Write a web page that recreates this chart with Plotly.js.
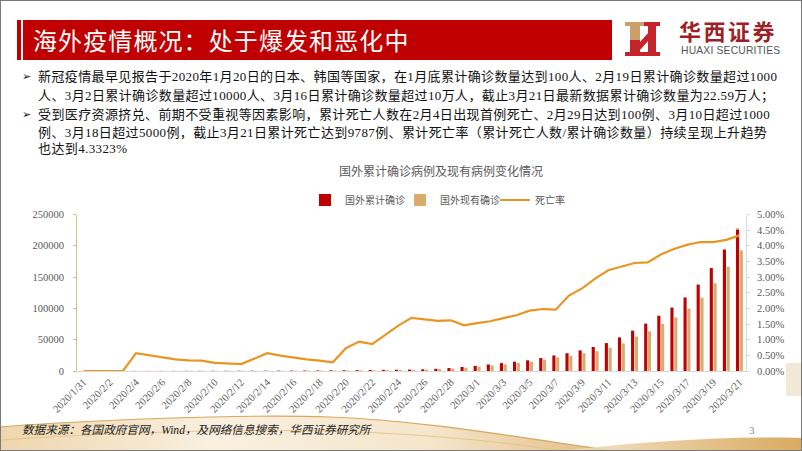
<!DOCTYPE html>
<html>
<head>
<meta charset="utf-8">
<script src="https://cdn.plot.ly/plotly-3.0.1.min.js"></script>
<style>
  html, body { margin:0; padding:0; }
  body { width:802px; height:451px; overflow:hidden; background:#fff; position:relative;
         font-family:"Liberation Serif","Noto Sans CJK SC",serif; }
  #frame { position:absolute; left:0; top:0; width:800px; height:449px; border:1px solid #7a7a7a; z-index:20; pointer-events:none; }
  #deco { position:absolute; left:0; top:0; z-index:0; }
  #chart { position:absolute; left:0; top:0; width:802px; height:451px; z-index:5; }
  .abs { position:absolute; z-index:10; white-space:nowrap; }
  .line { font-size:13px; letter-spacing:0.38px; color:#111; line-height:16px; left:38px; }
  .bullet { font-family:"DejaVu Sans",sans-serif; font-size:11px; left:22px; color:#111; line-height:16px; }
</style>
</head>
<body>
<svg id="deco" width="802" height="451">
  <defs>
    <linearGradient id="g1" x1="0" y1="0" x2="1" y2="0">
      <stop offset="0" stop-color="#E9C892"/>
      <stop offset="0.35" stop-color="#F7EBD6"/>
      <stop offset="0.7" stop-color="#F1DDBA"/>
      <stop offset="1" stop-color="#D9A659"/>
    </linearGradient>
    <linearGradient id="g2" x1="0" y1="0" x2="1" y2="0">
      <stop offset="0" stop-color="#F3E2C4"/>
      <stop offset="1" stop-color="#D39B45"/>
    </linearGradient>
  </defs>
  <!-- title bar -->
  <rect x="17" y="20" width="4" height="40" fill="#C00000"/>
  <rect x="23" y="20" width="589" height="40" fill="#C00000"/>
  <!-- logo -->
  <polygon points="625,22 645,22 645,26 640,26 640,40 630,40 630,26 625,26" fill="#C9A068"/>
  <rect x="630" y="40" width="10" height="16" fill="#C3232B"/>
  <rect x="625" y="52" width="20" height="4" fill="#C3232B"/>
  <polygon points="640,42 649,32 649,40 640,50" fill="#C3232B"/>
  <rect x="648" y="22" width="8" height="34" fill="#C3232B"/>
  <rect x="644" y="22" width="16" height="4" fill="#C3232B"/>
  <rect x="644" y="52" width="16" height="4" fill="#C3232B"/>
  <!-- bottom decoration -->
  <path d="M0,451 L0,427 C90,420 240,414 330,417 C430,421 520,438 615,451 Z" fill="url(#g1)" opacity="0.75"/>
  <path d="M0,427 C90,420 240,414 330,417 C430,421 520,438 615,451" fill="none" stroke="#D8A75B" stroke-width="1.2"/>
  <path d="M0,440 C120,432 260,428 360,432 C450,436 520,444 560,451" fill="none" stroke="#E4BE80" stroke-width="0.8"/>
  <path d="M560,451 C650,441 730,436 802,438 L802,451 Z" fill="url(#g2)" opacity="0.85"/>
  <rect x="786" y="363" width="16" height="33" fill="#EFE2CC" opacity="0.8"/>
</svg>
<div id="chart"></div>
<div id="frame"></div>

<div class="abs" style="left:33px; top:25px; font-family:'Noto Sans CJK SC',sans-serif; font-size:24px; letter-spacing:1.1px; color:#fff; line-height:30px;">海外疫情概况：处于爆发和恶化中</div>
<div class="abs" style="left:679px; top:17px; font-family:'Noto Sans CJK SC',serif; font-weight:bold; font-size:22px; letter-spacing:2.5px; color:#9E1F25; line-height:26px;">华西证券</div>
<div class="abs" style="left:681px; top:45px; font-family:'Liberation Sans',sans-serif; font-size:10.3px; letter-spacing:0.2px; color:#555; line-height:11px;">HUAXI SECURITIES</div>

<div class="abs bullet" style="top:69px;">➢</div>
<div class="abs line" style="top:69px;">新冠疫情最早见报告于2020年1月20日的日本、韩国等国家，在1月底累计确诊数量达到100人、2月19日累计确诊数量超过1000</div>
<div class="abs line" style="top:88px;">人、3月2日累计确诊数量超过10000人、3月16日累计确诊数量超过10万人，截止3月21日最新数据累计确诊数量为22.59万人；</div>
<div class="abs bullet" style="top:107px;">➢</div>
<div class="abs line" style="top:107px;">受到医疗资源挤兑、前期不受重视等因素影响，累计死亡人数在2月4日出现首例死亡、2月29日达到100例、3月10日超过1000</div>
<div class="abs line" style="top:125px;">例、3月18日超过5000例，截止3月21日累计死亡达到9787例、累计死亡率（累计死亡人数/累计确诊数量）持续呈现上升趋势</div>
<div class="abs line" style="top:141px;">也达到4.3323%</div>

<div class="abs" style="left:22px; top:423px; font-size:11.6px; font-style:italic; color:#222; line-height:15px;">数据来源：各国政府官网，Wind，及网络信息搜索，华西证券研究所</div>
<div class="abs" style="left:749px; top:423px; font-size:11px; color:#888; line-height:14px;">3</div>

<script>
// ---- data ----
const dates = [
  '2020/1/31',
  '2020/2/1','2020/2/2','2020/2/3','2020/2/4','2020/2/5','2020/2/6','2020/2/7','2020/2/8','2020/2/9','2020/2/10',
  '2020/2/11','2020/2/12','2020/2/13','2020/2/14','2020/2/15','2020/2/16','2020/2/17','2020/2/18','2020/2/19','2020/2/20',
  '2020/2/21','2020/2/22','2020/2/23','2020/2/24','2020/2/25','2020/2/26','2020/2/27','2020/2/28','2020/2/29',
  '2020/3/1','2020/3/2','2020/3/3','2020/3/4','2020/3/5','2020/3/6','2020/3/7','2020/3/8','2020/3/9','2020/3/10',
  '2020/3/11','2020/3/12','2020/3/13','2020/3/14','2020/3/15','2020/3/16','2020/3/17','2020/3/18','2020/3/19','2020/3/20','2020/3/21'
];
const cumConfirmed = [130,146,153,159,176,200,232,270,292,305,385,396,450,512,527,612,713,808,900,1073,1200,1380,1560,1800,2050,2250,2750,3500,4700,6400,8100,10400,12600,14900,17100,20700,24800,28400,32900,38300,44600,53600,64400,75700,88300,101300,117500,138000,164400,194100,225906];
const currentConfirmed = [118,132,137,141,157,179,206,240,258,268,335,341,380,418,421,470,540,600,650,770,870,1000,1140,1330,1540,1720,2170,2820,3850,5350,6900,8950,10900,12900,14900,18000,21600,24300,28400,31500,37400,44000,55000,63500,75200,85500,99600,117100,140100,166600,192800];
const deathRatePct = [0,0,0,0,0.57,0.50,0.43,0.37,0.34,0.33,0.26,0.25,0.22,0.39,0.57,0.49,0.42,0.37,0.33,0.28,0.73,0.94,0.86,1.15,1.45,1.70,1.65,1.60,1.62,1.46,1.53,1.59,1.69,1.78,1.93,1.98,1.96,2.41,2.64,2.95,3.22,3.33,3.45,3.47,3.72,3.90,4.03,4.12,4.12,4.19,4.3323];
const seriesNames = ['国外累计确诊','国外现有确诊','死亡率'];
const leftTicks = [0,50000,100000,150000,200000,250000];
const chartTitle = '国外累计确诊病例及现有病例变化情况';

const tickDates = dates.filter((d,i)=> i % 2 === 0);
const lastIdx = cumConfirmed.length - 1;
const redText = cumConfirmed.map((v,i)=> i === lastIdx ? String(v) : '');

const fontFam = 'Liberation Serif, Noto Sans CJK SC, serif';

const traces = [
  { type:'bar', name:seriesNames[0], x:dates, y:cumConfirmed, marker:{color:'#C00000'},
    text:redText, textposition:'outside', cliponaxis:false,
    textfont:{family:fontFam, size:11, color:'#404040'}, hoverinfo:'skip' },
  { type:'bar', name:seriesNames[1], x:dates, y:currentConfirmed, marker:{color:'#D7AC6E'}, hoverinfo:'skip' },
  { type:'scatter', mode:'lines', name:seriesNames[2], x:dates, y:deathRatePct, yaxis:'y2',
    line:{color:'#EA9522', width:2.2}, hoverinfo:'skip' }
];

const layout = {
  width:802, height:451,
  margin:{l:77, r:56, t:186, b:80, pad:0},
  paper_bgcolor:'rgba(0,0,0,0)', plot_bgcolor:'rgba(0,0,0,0)',
  font:{family:fontFam, color:'#595959', size:10.5},
  title:{text:chartTitle, x:441/802, xanchor:'center', y:1-172/451, yanchor:'middle',
         font:{family:'Noto Sans CJK SC, serif', size:12, color:'#595959'}},
  barmode:'group', bargap:0.42, bargroupgap:0.18,
  showlegend:true,
  legend:{orientation:'h', xref:'container', yref:'container', x:305/802, y:1-200/451,
          xanchor:'left', yanchor:'middle', font:{family:'Noto Sans CJK SC, serif', size:10, color:'#595959'},
          itemwidth:30, entrywidth:50, entrywidthmode:'pixels', bgcolor:'rgba(0,0,0,0)', traceorder:'normal'},
  xaxis:{type:'category', tickmode:'array', tickvals:tickDates, ticktext:tickDates, tickangle:-45,
         showline:true, linecolor:'#D9D9D9', linewidth:1, showgrid:false, zeroline:false,
         ticks:'', tickfont:{family:fontFam, size:10.5, color:'#595959'}},
  yaxis:{range:[0,250000], tickmode:'array', tickvals:leftTicks, ticktext:leftTicks.map(String),
         showline:true, linecolor:'#D4C07E', linewidth:1, ticks:'outside', ticklen:3, tickcolor:'#D4C07E',
         showgrid:false, zeroline:false, ticklabelstandoff:7,
         tickfont:{family:fontFam, size:10.5, color:'#595959'}},
  yaxis2:{overlaying:'y', side:'right', range:[0,5], dtick:0.5, tick0:0, tickformat:'.2f', ticksuffix:'%',
          showline:true, linecolor:'#D9D9D9', linewidth:1, ticks:'outside', ticklen:3, tickcolor:'#D9D9D9',
          showgrid:false, zeroline:false, ticklabelstandoff:5,
          tickfont:{family:fontFam, size:10.5, color:'#595959'}}
};

Plotly.newPlot('chart', traces, layout, {staticPlot:true, displayModeBar:false});
</script>
</body>
</html>
